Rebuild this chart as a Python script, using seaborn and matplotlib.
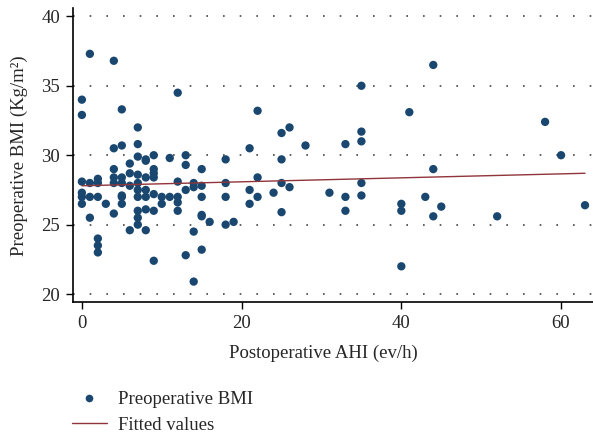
import numpy as np
import pandas as pd
import matplotlib
matplotlib.use("Agg")
import matplotlib.pyplot as plt
from matplotlib.lines import Line2D
import seaborn as sns

# postoperative AHI (ev/h) and preoperative BMI (kg/m2)
ahi = [0, 0, 0, 0, 0, 0,
       1, 1, 1, 1,
       2, 2, 2, 2, 2, 2,
       3,
       4, 4, 4, 4, 4, 4,
       5, 5, 5, 5, 5, 5, 5,
       6, 6, 6, 6,
       7, 7, 7, 7, 7, 7, 7, 7, 7, 7,
       8, 8, 8, 8, 8, 8, 8,
       9, 9, 9, 9, 9, 9, 9,
       10, 10,
       11, 11,
       12, 12, 12, 12, 12,
       13, 13, 13, 13,
       14, 14, 14, 14,
       15, 15, 15, 15, 15, 15,
       16,
       18, 18, 18, 18,
       19,
       21, 21, 21,
       22, 22, 22,
       24, 25, 25, 25, 25, 26, 26,
       28, 31, 33, 33, 33,
       35, 35, 35, 35, 35,
       40, 40, 40, 41, 43,
       44, 44, 44, 45,
       52, 58, 60, 63]
bmi = [34.0, 32.9, 28.1, 27.3, 27.0, 26.5,
       37.3, 28.0, 27.0, 25.5,
       28.3, 28.0, 27.0, 24.0, 23.5, 23.0,
       26.5,
       36.8, 30.5, 29.0, 28.4, 28.0, 25.8,
       33.3, 30.7, 28.4, 28.0, 27.1, 26.5, 27.0,
       29.4, 28.7, 27.8, 24.6,
       32.0, 30.8, 29.9, 28.6, 28.0, 27.5, 26.0, 25.5, 25.0, 27.0,
       29.6, 28.4, 27.5, 27.0, 26.1, 24.6, 29.7,
       30.0, 29.0, 28.7, 28.4, 27.2, 26.0, 22.4,
       27.0, 26.5,
       29.8, 27.0,
       34.5, 28.1, 27.0, 26.6, 26.0,
       30.0, 29.3, 27.5, 22.8,
       28.0, 27.7, 24.5, 20.9,
       29.0, 27.8, 27.0, 25.7, 25.6, 23.2,
       25.2,
       29.7, 28.0, 27.0, 25.0,
       25.2,
       30.5, 27.5, 26.5,
       33.2, 28.4, 27.0,
       27.3, 31.6, 29.7, 28.0, 25.9, 32.0, 27.7,
       30.7, 27.3, 30.8, 27.0, 26.0,
       35.0, 31.7, 31.0, 28.0, 27.1,
       26.5, 26.0, 22.0, 33.1, 27.0,
       36.5, 29.0, 25.6, 26.3,
       25.6, 32.4, 30.0, 26.4]

# linear fit as drawn
fit_x = [0, 63]
fit_y = [27.8, 28.7]

df = pd.DataFrame({"ahi": ahi, "bmi": bmi})
fit = pd.DataFrame({"ahi": fit_x, "bmi": fit_y})

sns.set_style("white")
plt.rcParams["font.family"] = ["Liberation Serif", "DejaVu Serif"]
fs = 13.5

navy = "#1a476f"
maroon = "#90353b"

fig = plt.figure(figsize=(5.93, 4.36), dpi=100)
ax = fig.add_axes([0.1226, 0.307, 0.8774, 0.674])

sns.scatterplot(data=df, x="ahi", y="bmi", color=navy, s=36, edgecolor="none",
                ax=ax, zorder=3)
sns.lineplot(data=fit, x="ahi", y="bmi", color=maroon, linewidth=1.0, ax=ax,
             zorder=4)

ax.set_xlim(-1.15, 64.0)
ax.set_ylim(19.42, 40.58)
ax.set_xticks([0, 20, 40, 60])
ax.set_yticks([20, 25, 30, 35, 40])
ax.grid(False)
for v in [20, 25, 30, 35, 40]:
    ax.axhline(v, color="#444444", linewidth=1.2, linestyle=(0, (1, 9)),
               zorder=1)

for side in ["top", "right"]:
    ax.spines[side].set_visible(False)
for side in ["left", "bottom"]:
    ax.spines[side].set_color("black")
    ax.spines[side].set_linewidth(1.2)

ax.tick_params(axis="both", direction="out", length=5, width=1.0,
               color="black", labelsize=fs, pad=4, left=True, bottom=True)
ax.set_xlabel("Postoperative AHI (ev/h)", fontsize=fs)
ax.set_ylabel("Preoperative BMI (Kg/m²)", fontsize=fs)
ax.xaxis.set_label_coords(0.481, -0.145)
ax.yaxis.set_label_coords(-0.086, 0.5)

handles = [
    Line2D([], [], linestyle="none", marker="o", markersize=5.5,
           markerfacecolor=navy, markeredgecolor="none"),
    Line2D([], [], color=maroon, linewidth=1.0),
]
fig.legend(handles, ["Preoperative BMI", "Fitted values"],
           loc="upper left", bbox_to_anchor=(0.108, 0.12),
           frameon=False, fontsize=fs, handlelength=1.9,
           handletextpad=0.6, labelspacing=0.45, borderaxespad=0)

fig.savefig("out.png", dpi=100)
